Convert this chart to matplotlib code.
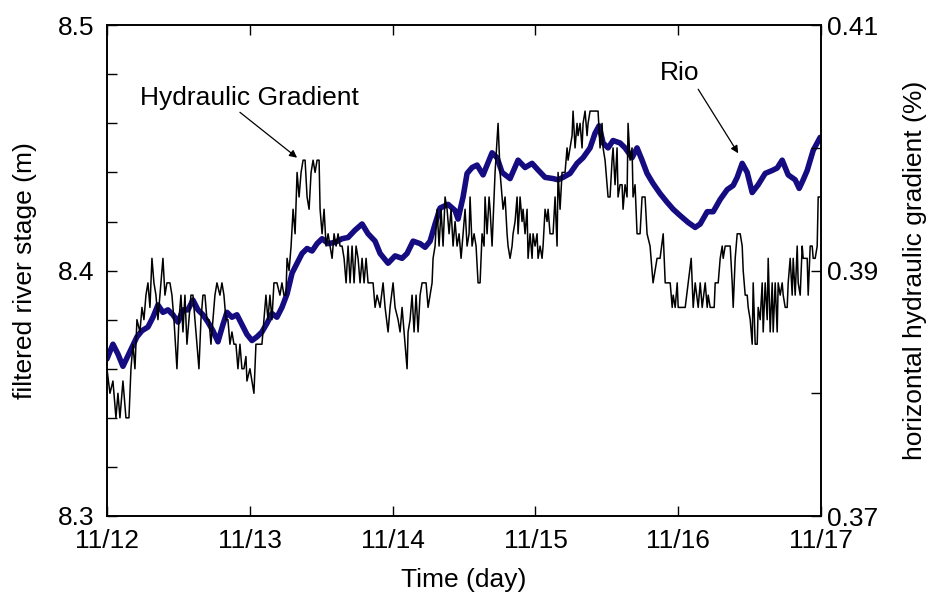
import matplotlib
matplotlib.use("Agg")
import matplotlib.pyplot as plt
import numpy as np

plt.rcParams['font.family'] = ['Liberation Sans', 'DejaVu Sans']

# ---- data -------------------------------------------------------------
# time in days since 11/12 00:00
stage_t = [0.000, 0.042, 0.077, 0.112, 0.161, 0.210, 0.245, 0.287, 0.322, 0.357,
           0.392, 0.427, 0.462, 0.497, 0.532, 0.567, 0.602, 0.637, 0.672, 0.707,
           0.742, 0.777, 0.812, 0.840, 0.875, 0.910, 0.945, 0.980, 1.015, 1.050,
           1.085, 1.120, 1.155, 1.190, 1.225, 1.261, 1.296, 1.331, 1.366, 1.401,
           1.436, 1.471, 1.506, 1.548, 1.597, 1.646, 1.688, 1.737, 1.786, 1.828,
           1.877, 1.912, 1.968, 2.017, 2.066, 2.101, 2.143, 2.192, 2.227, 2.262,
           2.297, 2.332, 2.388, 2.437, 2.458, 2.493, 2.521, 2.556, 2.591, 2.633,
           2.696, 2.731, 2.766, 2.822, 2.878, 2.927, 2.976, 3.018, 3.067, 3.123,
           3.158, 3.193, 3.242, 3.291, 3.333, 3.382, 3.417, 3.445, 3.473, 3.508,
           3.543, 3.592, 3.627, 3.676, 3.711, 3.746, 3.781, 3.823, 3.872, 3.922,
           3.964, 4.013, 4.069, 4.118, 4.153, 4.202, 4.244, 4.293, 4.342, 4.384,
           4.412, 4.447, 4.482, 4.517, 4.559, 4.608, 4.657, 4.692, 4.727, 4.769,
           4.818, 4.846, 4.874, 4.902, 4.944, 4.993]
stage_m = [8.364, 8.370, 8.366, 8.361, 8.367, 8.373, 8.3755, 8.377, 8.381, 8.386,
           8.383, 8.384, 8.382, 8.379, 8.384, 8.384, 8.388, 8.384, 8.382, 8.379,
           8.3755, 8.371, 8.378, 8.383, 8.381, 8.382, 8.378, 8.374, 8.3715, 8.373,
           8.375, 8.3785, 8.3825, 8.381, 8.385, 8.3905, 8.399, 8.403, 8.407, 8.409,
           8.408, 8.411, 8.413, 8.411, 8.4115, 8.413, 8.4135, 8.4165, 8.419, 8.415,
           8.412, 8.407, 8.403, 8.406, 8.405, 8.407, 8.412, 8.411, 8.4095, 8.412,
           8.419, 8.4255, 8.427, 8.4245, 8.421, 8.430, 8.4396, 8.442, 8.443, 8.439,
           8.448, 8.446, 8.440, 8.4375, 8.445, 8.442, 8.4437, 8.441, 8.438, 8.4375,
           8.437, 8.438, 8.4396, 8.4437, 8.446, 8.450, 8.456, 8.459, 8.452, 8.450,
           8.453, 8.452, 8.450, 8.446, 8.450, 8.445, 8.4396, 8.4355, 8.4314, 8.4278,
           8.425, 8.4224, 8.4196, 8.4176, 8.419, 8.424, 8.424, 8.429, 8.433, 8.4347,
           8.438, 8.4437, 8.440, 8.4318, 8.435, 8.4396, 8.4408, 8.4418, 8.445, 8.439,
           8.437, 8.4335, 8.437, 8.4408, 8.449, 8.4543]

grad_t = [0.000, 0.021, 0.042, 0.063, 0.077, 0.091, 0.112, 0.133, 0.154, 0.168,
          0.182, 0.196, 0.210, 0.231, 0.245, 0.259, 0.273, 0.287, 0.301, 0.315,
          0.329, 0.343, 0.357, 0.371, 0.392, 0.406, 0.420, 0.441, 0.455, 0.469,
          0.490, 0.504, 0.518, 0.532, 0.546, 0.560, 0.574, 0.588, 0.602, 0.616,
          0.630, 0.644, 0.658, 0.672, 0.686, 0.700, 0.714, 0.728, 0.742, 0.756,
          0.770, 0.791, 0.805, 0.819, 0.833, 0.847, 0.861, 0.875, 0.889, 0.903,
          0.917, 0.931, 0.945, 0.959, 0.973, 0.980, 1.001, 1.015, 1.029, 1.043,
          1.064, 1.085, 1.099, 1.113, 1.127, 1.141, 1.155, 1.169, 1.190, 1.211,
          1.225, 1.239, 1.253, 1.261, 1.275, 1.289, 1.303, 1.317, 1.331, 1.345,
          1.359, 1.373, 1.387, 1.401, 1.415, 1.429, 1.443, 1.457, 1.471, 1.485,
          1.492, 1.506, 1.520, 1.534, 1.548, 1.562, 1.576, 1.590, 1.604, 1.618,
          1.632, 1.646, 1.660, 1.674, 1.688, 1.702, 1.716, 1.730, 1.744, 1.758,
          1.772, 1.786, 1.800, 1.814, 1.828, 1.849, 1.863, 1.877, 1.891, 1.912,
          1.933, 1.947, 1.968, 1.982, 2.003, 2.017, 2.038, 2.052, 2.066, 2.080,
          2.101, 2.108, 2.122, 2.136, 2.150, 2.164, 2.178, 2.192, 2.206, 2.234,
          2.248, 2.262, 2.276, 2.283, 2.297, 2.311, 2.325, 2.339, 2.353, 2.367,
          2.381, 2.395, 2.409, 2.423, 2.437, 2.451, 2.465, 2.479, 2.493, 2.507,
          2.521, 2.535, 2.542, 2.556, 2.570, 2.584, 2.598, 2.612, 2.626, 2.640,
          2.647, 2.661, 2.675, 2.682, 2.696, 2.710, 2.717, 2.738, 2.752, 2.766,
          2.773, 2.787, 2.801, 2.808, 2.822, 2.836, 2.843, 2.857, 2.871, 2.878,
          2.892, 2.906, 2.913, 2.927, 2.941, 2.948, 2.962, 2.976, 2.983, 2.997,
          3.011, 3.018, 3.032, 3.046, 3.053, 3.067, 3.081, 3.088, 3.102, 3.123,
          3.137, 3.151, 3.158, 3.172, 3.186, 3.193, 3.207, 3.221, 3.228, 3.242,
          3.256, 3.263, 3.277, 3.291, 3.298, 3.312, 3.326, 3.333, 3.347, 3.361,
          3.368, 3.382, 3.396, 3.410, 3.424, 3.438, 3.452, 3.466, 3.473, 3.487,
          3.501, 3.508, 3.522, 3.536, 3.543, 3.557, 3.571, 3.578, 3.592, 3.606,
          3.613, 3.627, 3.641, 3.648, 3.662, 3.676, 3.683, 3.697, 3.711, 3.732,
          3.746, 3.767, 3.781, 3.802, 3.816, 3.823, 3.837, 3.851, 3.872, 3.894,
          3.908, 3.929, 3.943, 3.957, 3.964, 3.978, 3.992, 3.999, 4.048, 4.069,
          4.090, 4.104, 4.118, 4.139, 4.153, 4.167, 4.188, 4.202, 4.209, 4.223,
          4.251, 4.258, 4.279, 4.293, 4.307, 4.314, 4.328, 4.342, 4.363, 4.377,
          4.384, 4.398, 4.412, 4.433, 4.447, 4.454, 4.468, 4.482, 4.489, 4.503,
          4.517, 4.524, 4.538, 4.552, 4.559, 4.573, 4.587, 4.594, 4.608, 4.622,
          4.629, 4.643, 4.657, 4.664, 4.678, 4.692, 4.699, 4.713, 4.727, 4.734,
          4.748, 4.762, 4.769, 4.783, 4.797, 4.804, 4.818, 4.832, 4.839, 4.853,
          4.867, 4.874, 4.902, 4.909, 4.923, 4.937, 4.944, 4.958, 4.972, 4.979,
          5.000]
grad_pct = [0.382, 0.380, 0.381, 0.378, 0.380, 0.378, 0.381, 0.378, 0.378, 0.382,
            0.384, 0.382, 0.386, 0.385, 0.387, 0.386, 0.388, 0.389, 0.387, 0.391,
            0.389, 0.388, 0.386, 0.388, 0.391, 0.388, 0.389, 0.389, 0.388, 0.386,
            0.382, 0.386, 0.388, 0.385, 0.388, 0.384, 0.386, 0.388, 0.388, 0.386,
            0.384, 0.382, 0.386, 0.388, 0.388, 0.386, 0.386, 0.384, 0.386, 0.388,
            0.389, 0.388, 0.389, 0.388, 0.386, 0.386, 0.384, 0.385, 0.384, 0.384,
            0.382, 0.384, 0.382, 0.382, 0.383, 0.381, 0.382, 0.381, 0.380, 0.384,
            0.384, 0.384, 0.386, 0.388, 0.386, 0.388, 0.386, 0.389, 0.389, 0.388,
            0.389, 0.388, 0.388, 0.391, 0.390, 0.392, 0.395, 0.393, 0.398, 0.396,
            0.398, 0.399, 0.399, 0.396, 0.395, 0.398, 0.399, 0.398, 0.399, 0.399,
            0.395, 0.393, 0.395, 0.392, 0.393, 0.392, 0.391, 0.393, 0.392, 0.393,
            0.392, 0.392, 0.391, 0.389, 0.392, 0.389, 0.392, 0.389, 0.392, 0.391,
            0.389, 0.391, 0.389, 0.391, 0.389, 0.389, 0.389, 0.387, 0.388, 0.387,
            0.389, 0.387, 0.385, 0.387, 0.389, 0.387, 0.386, 0.385, 0.387, 0.385,
            0.382, 0.385, 0.386, 0.388, 0.385, 0.388, 0.385, 0.388, 0.389, 0.389,
            0.387, 0.388, 0.389, 0.391, 0.392, 0.395, 0.392, 0.395, 0.392, 0.396,
            0.395, 0.393, 0.395, 0.392, 0.394, 0.392, 0.393, 0.391, 0.393, 0.395,
            0.392, 0.393, 0.396, 0.392, 0.393, 0.392, 0.389, 0.389, 0.393, 0.392,
            0.396, 0.393, 0.396, 0.395, 0.392, 0.396, 0.398, 0.402, 0.398, 0.396,
            0.395, 0.396, 0.393, 0.392, 0.391, 0.392, 0.393, 0.394, 0.396, 0.393,
            0.396, 0.394, 0.395, 0.393, 0.395, 0.391, 0.393, 0.391, 0.393, 0.392,
            0.393, 0.391, 0.392, 0.391, 0.392, 0.395, 0.394, 0.395, 0.393, 0.393,
            0.396, 0.392, 0.398, 0.395, 0.398, 0.398, 0.398, 0.400, 0.399, 0.400,
            0.401, 0.403, 0.400, 0.402, 0.401, 0.402, 0.400, 0.402, 0.403, 0.401,
            0.402, 0.403, 0.403, 0.403, 0.403, 0.403, 0.400, 0.402, 0.400, 0.399,
            0.397, 0.396, 0.396, 0.399, 0.400, 0.397, 0.400, 0.396, 0.397, 0.397,
            0.395, 0.397, 0.396, 0.402, 0.399, 0.400, 0.396, 0.397, 0.393, 0.393,
            0.396, 0.396, 0.393, 0.392, 0.390, 0.389, 0.390, 0.391, 0.391, 0.393,
            0.389, 0.389, 0.389, 0.387, 0.388, 0.387, 0.389, 0.387, 0.387, 0.389,
            0.391, 0.387, 0.389, 0.387, 0.389, 0.387, 0.389, 0.387, 0.388, 0.387,
            0.387, 0.389, 0.389, 0.391, 0.392, 0.391, 0.392, 0.392, 0.392, 0.389,
            0.387, 0.391, 0.393, 0.393, 0.392, 0.390, 0.388, 0.388, 0.387, 0.386,
            0.384, 0.389, 0.384, 0.384, 0.387, 0.386, 0.389, 0.385, 0.389, 0.386,
            0.391, 0.385, 0.389, 0.385, 0.389, 0.385, 0.389, 0.388, 0.389, 0.388,
            0.387, 0.387, 0.389, 0.391, 0.388, 0.391, 0.388, 0.392, 0.389, 0.388,
            0.392, 0.391, 0.391, 0.388, 0.392, 0.392, 0.391, 0.391, 0.392, 0.396,
            0.396]

day_ticks = [0, 1, 2, 3, 4, 5]
day_labels = ['11/12', '11/13', '11/14', '11/15', '11/16', '11/17']
stage_ticks = [8.3, 8.4, 8.5]
stage_labels = ['8.3', '8.4', '8.5']
grad_ticks = [0.37, 0.39, 0.41]
grad_labels = ['0.37', '0.39', '0.41']

# ---- figure -----------------------------------------------------------
fig = plt.figure(figsize=(9.3, 6.0), dpi=100)
ax = fig.add_axes([0.115, 0.14, 0.768, 0.818])
ax2 = ax.twinx()

ax.plot(stage_t, stage_m, color='#140c80', lw=4.0, solid_capstyle='round',
        solid_joinstyle='round', zorder=2)
ax2.plot(grad_t, grad_pct, color='black', lw=1.1, zorder=3)

FS = 19
ax.set_xlim(0, 5)
ax.set_ylim(8.3, 8.5)
ax2.set_ylim(0.37, 0.41)

ax.set_xticks(day_ticks)
ax.set_xticklabels(day_labels, fontsize=FS)
ax.set_yticks(stage_ticks)
ax.set_yticklabels(stage_labels, fontsize=FS)
ax.set_yticks(np.arange(8.32, 8.49, 0.02), minor=True)
ax2.set_yticks(grad_ticks)
ax2.set_yticklabels(grad_labels, fontsize=FS)
ax2.set_yticks([0.38, 0.40], minor=True)

ax.tick_params(axis='x', which='both', direction='in', length=7, width=1,
               top=True, pad=9)
ax.tick_params(axis='y', which='both', direction='in', length=7, width=1,
               right=False, pad=9)
ax2.tick_params(axis='y', which='both', direction='in', length=7, width=1, pad=4)

for a in (ax, ax2):
    for s in a.spines.values():
        s.set_linewidth(1.2)

ax.set_xlabel('Time (day)', fontsize=FS)
ax.xaxis.set_label_coords(0.5, -0.105)
ax.set_ylabel('filtered river stage (m)', fontsize=FS)
ax.yaxis.set_label_coords(-0.098, 0.5)
ax2.set_ylabel('horizontal hydraulic gradient (%)', fontsize=FS)
ax2.yaxis.set_label_coords(1.115, 0.5)

arrow_kw = dict(arrowstyle='-|>', color='black', lw=0.9,
                mutation_scale=11, shrinkA=0, shrinkB=0)

ax2.text(0.231, 0.4041, 'Hydraulic Gradient', fontsize=FS, va='center', ha='left')
ax2.annotate('', xy=(1.331, 0.3992), xytext=(0.931, 0.4029), arrowprops=arrow_kw)

ax.text(3.873, 8.4804, 'Rio', fontsize=FS, va='center', ha='left')
ax.annotate('', xy=(4.419, 8.4478), xytext=(4.139, 8.4739), arrowprops=arrow_kw)

fig.savefig('out.png', dpi=100)
